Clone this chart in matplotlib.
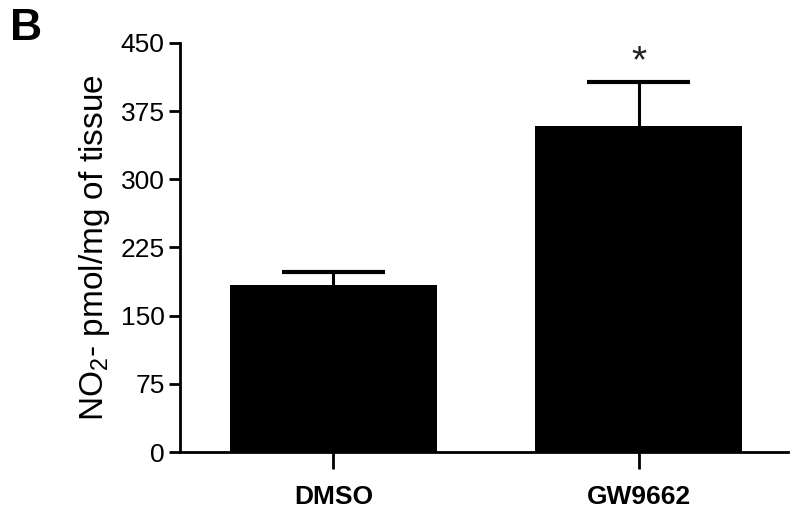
import matplotlib
matplotlib.use('Agg')
import matplotlib.pyplot as plt

groups = ['DMSO', 'GW9662']
means = [184, 358]
sem = [14, 49]
y_ticks = [0, 75, 150, 225, 300, 375, 450]

plt.rcParams['font.family'] = ['Liberation Sans', 'DejaVu Sans']
plt.rcParams['mathtext.fontset'] = 'custom'
plt.rcParams['mathtext.rm'] = 'Liberation Sans'

fig = plt.figure(figsize=(8, 5.22), dpi=100)
ax = fig.add_axes([0.225, 0.134, 0.76, 0.784])

x = list(range(len(groups)))
bar_w = 0.68
ax.bar(x, means, width=bar_w, color='black', zorder=3)

# upper-only error bars (SEM)
tops = [m + s for m, s in zip(means, sem)]
ax.vlines(x, means, tops, color='black', linewidth=2.2, zorder=2)
ax.hlines(tops, [i - bar_w / 4 for i in x], [i + bar_w / 4 for i in x],
          color='black', linewidth=3, zorder=2)

# significance marker above the GW9662 bar
ax.text(1, tops[1] + 2, '*', ha='center', va='bottom',
        fontsize=28, color='#222222')

ax.set_xlim(-0.503, 1.49)
ax.set_ylim(0, 450)
ax.set_yticks(y_ticks)
ax.set_xticks(x)
ax.set_xticklabels(groups, fontsize=19, fontweight='bold')
ax.tick_params(axis='y', labelsize=19, width=2, length=8, direction='out', pad=3)
ax.tick_params(axis='x', width=2, length=12, direction='out', pad=12)
ax.set_ylabel(r'NO$_\mathregular{2}$- pmol/mg of tissue', fontsize=24, labelpad=6)

for side in ['top', 'right']:
    ax.spines[side].set_visible(False)
for side in ['left', 'bottom']:
    ax.spines[side].set_linewidth(2)

fig.text(0.012, 0.985, 'B', fontsize=32, fontweight='bold', va='top', ha='left')

plt.savefig('out.png', dpi=100)
